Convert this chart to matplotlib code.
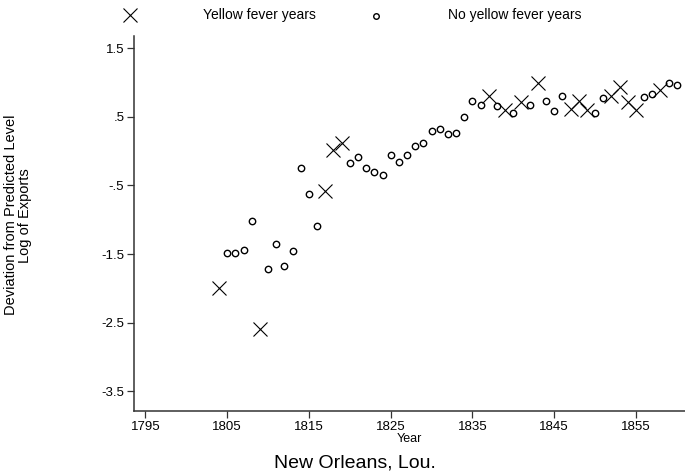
import matplotlib.pyplot as plt
from matplotlib.lines import Line2D

plt.rcParams['font.family'] = ['Liberation Sans', 'DejaVu Sans']

# Years with a yellow fever epidemic
fever_years = [1804, 1809, 1817, 1818, 1819, 1837, 1839, 1841, 1843,
               1847, 1848, 1849, 1852, 1853, 1854, 1855, 1858]
fever_dev = [-2.0, -2.6, -0.58, 0.01, 0.12, 0.80, 0.60, 0.72, 0.99,
             0.61, 0.73, 0.60, 0.81, 0.94, 0.72, 0.60, 0.89]

# Years without
clear_years = [1805, 1806, 1807, 1808, 1810, 1811, 1812, 1813, 1814, 1815,
               1816, 1820, 1821, 1822, 1823, 1824, 1825, 1826, 1827, 1828,
               1829, 1830, 1831, 1832, 1833, 1834, 1835, 1836, 1838, 1840,
               1842, 1844, 1845, 1846, 1850, 1851, 1856, 1857, 1859, 1860]
clear_dev = [-1.48, -1.49, -1.44, -1.02, -1.72, -1.35, -1.67, -1.45, -0.25, -0.63,
             -1.09, -0.18, -0.09, -0.25, -0.30, -0.35, -0.05, -0.16, -0.06, 0.08,
             0.125, 0.29, 0.33, 0.25, 0.27, 0.50, 0.73, 0.68, 0.66, 0.56,
             0.68, 0.73, 0.59, 0.81, 0.55, 0.78, 0.79, 0.83, 0.99, 0.97]

x_ticks = [1795, 1805, 1815, 1825, 1835, 1845, 1855]
y_ticks = [1.5, 0.5, -0.5, -1.5, -2.5, -3.5]
y_tick_labels = ['1.5', '.5', '-.5', '-1.5', '-2.5', '-3.5']

fig = plt.figure(figsize=(6.85, 4.73), dpi=100)
ax = fig.add_axes([0.1956, 0.131, 0.8044, 0.793])

ax.plot(clear_years, clear_dev, linestyle='none', marker='o', markersize=4.6,
        markerfacecolor='none', markeredgecolor='black', markeredgewidth=1.0)
ax.plot(fever_years, fever_dev, linestyle='none', marker='x', markersize=10,
        color='black', markeredgewidth=0.8)

ax.set_xlim(1793.6, 1861)
ax.set_ylim(-3.79, 1.68)
ax.set_xticks(x_ticks)
ax.set_yticks(y_ticks)
ax.set_yticklabels(y_tick_labels)

for side in ['top', 'right']:
    ax.spines[side].set_visible(False)
for side in ['left', 'bottom']:
    ax.spines[side].set_color('#333333')
    ax.spines[side].set_linewidth(1.1)
ax.tick_params(direction='out', length=5, width=0.9, color='#333333',
               labelsize=9.5, pad=2)

ax.set_xlabel('Year', fontsize=9, labelpad=0)
fig.text(0.027, 0.545, 'Deviation from Predicted Level\nLog of Exports',
         rotation=90, ha='center', va='center', fontsize=10.5, linespacing=1.0)
fig.text(0.518, 0.022, 'New Orleans, Lou.', ha='center', va='center', fontsize=14)

# legend row along the top
fig.add_artist(Line2D([130 / 685], [1 - 15 / 473], marker='x', markersize=10,
                      color='black', markeredgewidth=0.8, linestyle='none'))
fig.text(203 / 685, 1 - 15 / 473, 'Yellow fever years', va='center', fontsize=10)
fig.add_artist(Line2D([376 / 685], [1 - 16 / 473], marker='o', markersize=4.0,
                      markerfacecolor='none', markeredgecolor='black',
                      markeredgewidth=1.0, linestyle='none'))
fig.text(448 / 685, 1 - 15 / 473, 'No yellow fever years', va='center', fontsize=10)

fig.savefig('out.png', dpi=100)
